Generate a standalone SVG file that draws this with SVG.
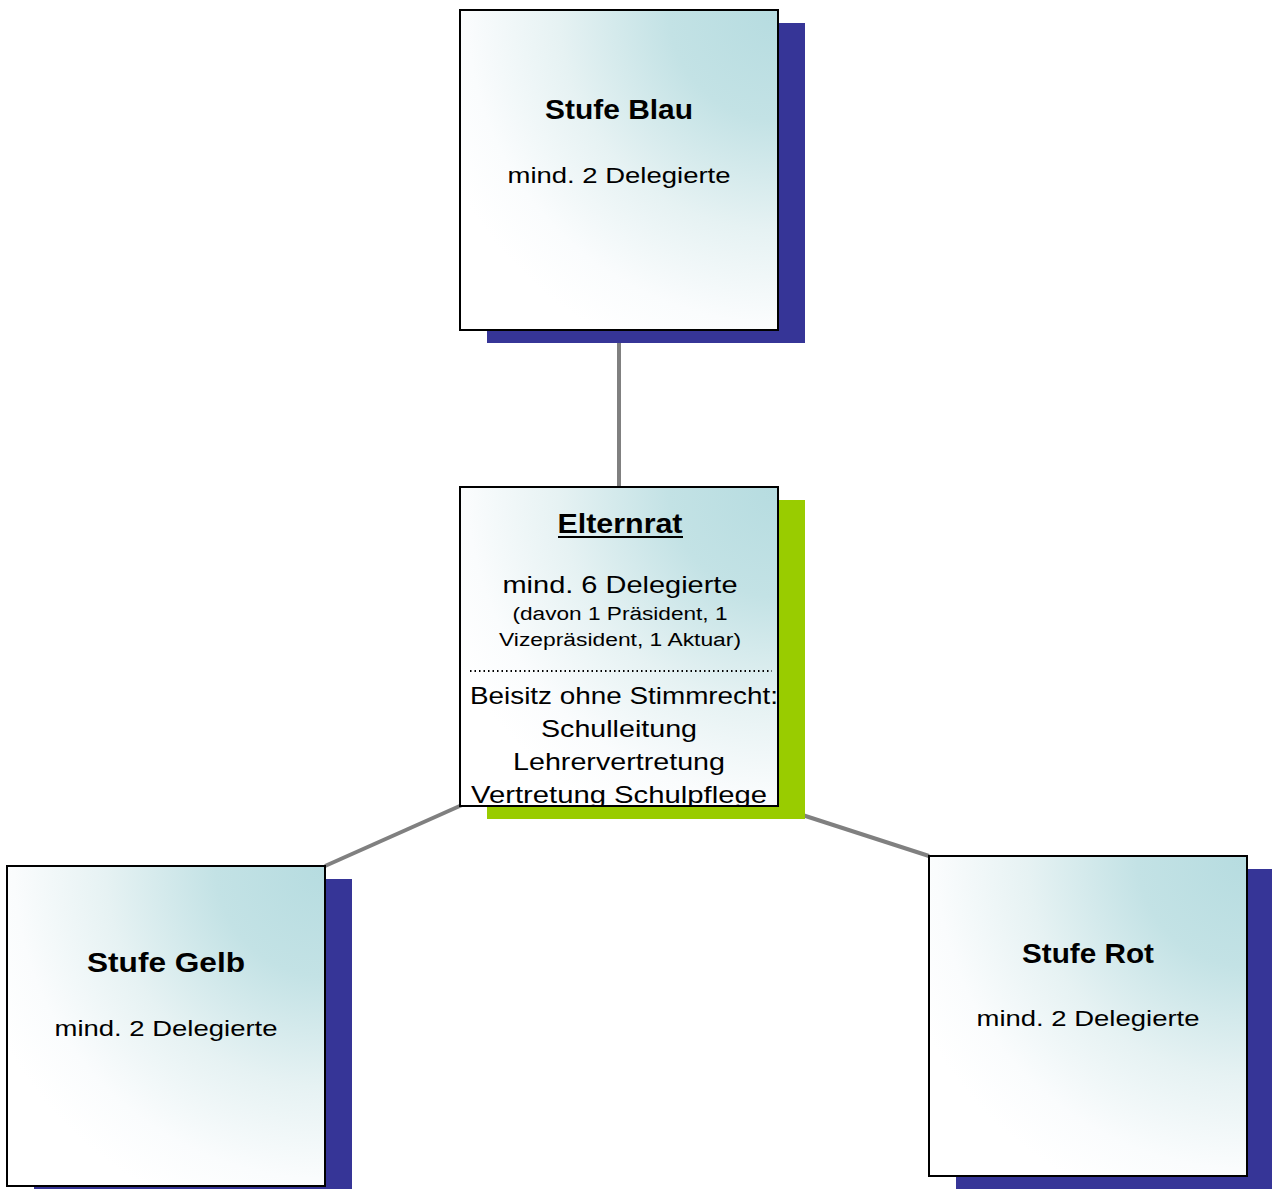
<svg xmlns="http://www.w3.org/2000/svg" width="1272" height="1189" viewBox="0 0 1272 1189">
<style>
.box{stroke:#000;stroke-width:2;fill:url(#g)}
.sh-blue{fill:#363597}
.sh-green{fill:#99CC00}
.conn{stroke:#808080;stroke-width:4;fill:none}
text{font-family:"Liberation Sans","DejaVu Sans",sans-serif;fill:#000;text-anchor:middle}
.t{font-weight:bold;font-size:28px}
.s{font-size:22px}
.m{font-size:24px}
.sm{font-size:18px}
</style>
<defs>
<radialGradient id="g" cx="1" cy="0" r="1.15" fx="1" fy="0">
<stop offset="0" stop-color="#B6DCE0"/>
<stop offset="0.3" stop-color="#C3E2E5"/>
<stop offset="0.6" stop-color="#E6F2F3"/>
<stop offset="0.85" stop-color="#FAFCFD"/>
<stop offset="1" stop-color="#FFFFFF"/>
</radialGradient>
<clipPath id="ec"><rect x="460" y="487" width="318" height="319"/></clipPath>
</defs>
<rect width="1272" height="1189" fill="#fff"/>
<g id="connectors">
<line class="conn" x1="619" y1="330" x2="619" y2="487"/>
<line class="conn" x1="462" y1="805" x2="325" y2="866"/>
<line class="conn" x1="790" y1="811" x2="929" y2="856"/>
</g>
<g id="blau">
<rect class="sh-blue" x="487" y="23" width="318" height="320"/>
<rect class="box" x="460" y="10" width="318" height="320"/>
<text class="t" x="619" y="119" textLength="148" lengthAdjust="spacingAndGlyphs">Stufe Blau</text>
<text class="s" x="619" y="183" textLength="223" lengthAdjust="spacingAndGlyphs">mind. 2 Delegierte</text>
</g>
<g id="elternrat">
<rect class="sh-green" x="487" y="500" width="318" height="319"/>
<rect class="box" x="460" y="487" width="318" height="319"/>
<g clip-path="url(#ec)">
<text class="t" x="620" y="533" textLength="125" lengthAdjust="spacingAndGlyphs">Elternrat</text>
<line x1="558" y1="537" x2="683" y2="537" stroke="#000" stroke-width="2"/>
<text class="m" x="620" y="593" textLength="235" lengthAdjust="spacingAndGlyphs">mind. 6 Delegierte</text>
<text class="sm" x="620" y="620" textLength="215" lengthAdjust="spacingAndGlyphs">(davon 1 Präsident, 1</text>
<text class="sm" x="620" y="646" textLength="242" lengthAdjust="spacingAndGlyphs">Vizepräsident, 1 Aktuar)</text>
<line x1="470" y1="671" x2="772" y2="671" stroke="#000" stroke-width="2" stroke-dasharray="1.5 3"/>
<text class="m" x="624" y="704" textLength="308" lengthAdjust="spacingAndGlyphs">Beisitz ohne Stimmrecht:</text>
<text class="m" x="619" y="737" textLength="156" lengthAdjust="spacingAndGlyphs">Schulleitung</text>
<text class="m" x="619" y="770" textLength="212" lengthAdjust="spacingAndGlyphs">Lehrervertretung</text>
<text class="m" x="619" y="803" textLength="296" lengthAdjust="spacingAndGlyphs">Vertretung Schulpflege</text>
</g>
</g>
<g id="gelb">
<rect class="sh-blue" x="34" y="879" width="318" height="310"/>
<rect class="box" x="7" y="866" width="318" height="320"/>
<text class="t" x="166" y="972" textLength="158" lengthAdjust="spacingAndGlyphs">Stufe Gelb</text>
<text class="s" x="166" y="1036" textLength="223" lengthAdjust="spacingAndGlyphs">mind. 2 Delegierte</text>
</g>
<g id="rot">
<rect class="sh-blue" x="956" y="869" width="316" height="320"/>
<rect class="box" x="929" y="856" width="318" height="320"/>
<text class="t" x="1088" y="963" textLength="132" lengthAdjust="spacingAndGlyphs">Stufe Rot</text>
<text class="s" x="1088" y="1026" textLength="223" lengthAdjust="spacingAndGlyphs">mind. 2 Delegierte</text>
</g>
</svg>
